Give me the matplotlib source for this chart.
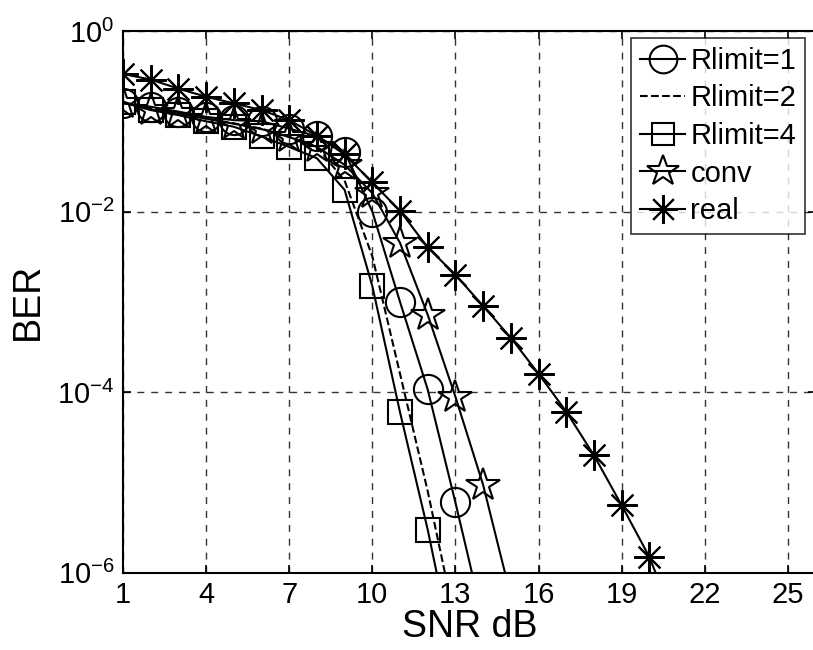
import numpy as np
import matplotlib
matplotlib.use("Agg")
import matplotlib.pyplot as plt

plt.rcParams['font.family'] = ['Liberation Sans', 'DejaVu Sans']
plt.rcParams['mathtext.fontset'] = 'custom'
plt.rcParams['mathtext.rm'] = 'Liberation Sans'
plt.rcParams['mathtext.it'] = 'Liberation Sans'

snr_r1 = [1, 2, 3, 4, 5, 6, 7, 8, 9, 10, 11, 12, 13, 14]
ber_r1 = [0.158, 0.145, 0.128, 0.112, 0.103, 0.1, 0.083, 0.068, 0.046,
          1.0e-2, 1.0e-3, 1.07e-4, 6.0e-6, 3.0e-7]

snr_r2 = [1, 2, 3, 4, 5, 6, 7, 8, 9, 10, 11, 12, 13]
ber_r2 = [0.16, 0.14, 0.124, 0.107, 0.095, 0.083, 0.067, 0.052, 0.022,
          3.2e-3, 1.6e-4, 8.0e-6, 2.8e-7]

snr_r4 = [1, 2, 3, 4, 5, 6, 7, 8, 9, 10, 11, 12, 13]
ber_r4 = [0.165, 0.133, 0.117, 0.10, 0.087, 0.068, 0.052, 0.039, 0.0174,
          1.5e-3, 6.0e-5, 3.0e-6, 1.0e-7]

snr_conv = [1, 2, 3, 4, 5, 6, 7, 8, 9, 10, 11, 12, 13, 14, 15]
ber_conv = [0.16, 0.135, 0.122, 0.107, 0.094, 0.082, 0.067, 0.052, 0.033,
            0.016, 4.5e-3, 7.2e-4, 8.9e-5, 9.4e-6, 5.5e-7]

snr_real = [1, 2, 3, 4, 5, 6, 7, 8, 9, 10, 11, 12, 13, 14, 15, 16, 17, 18, 19, 20, 21]
ber_real = [0.334, 0.29, 0.23, 0.187, 0.158, 0.133, 0.103, 0.069, 0.043, 0.021,
            1.02e-2, 4.0e-3, 2.0e-3, 9.0e-4, 4.0e-4, 1.6e-4, 6.1e-5, 2.0e-5,
            5.6e-6, 1.5e-6, 2.5e-7]

labels = ['Rlimit=1', 'Rlimit=2', 'Rlimit=4', 'conv', 'real']
xticks = [1, 4, 7, 10, 13, 16, 19, 22, 25]
yticks = [1e-6, 1e-4, 1e-2, 1e0]

fig = plt.figure(figsize=(8.13, 6.5), dpi=100)
W, H = 813, 650
left, right, top, bottom = 123, 815.5, 31, 572.7
ax = fig.add_axes([left / W, 1 - bottom / H, (right - left) / W, (bottom - top) / H])

lw = 1.5
mew = 1.5
common = dict(color='black', lw=lw, mfc='none', mec='black', mew=mew)
ax.semilogy(snr_r1, ber_r1, marker='o', ms=21, label=labels[0], **common)
ax.semilogy(snr_r2, ber_r2, linestyle='--', label=labels[1], color='black', lw=lw)
ax.semilogy(snr_r4, ber_r4, marker='s', ms=17, label=labels[2], **common)
ax.semilogy(snr_conv, ber_conv, marker='*', ms=25, label=labels[3], **common)
ax.semilogy(snr_real, ber_real, marker=(8, 2, 0), ms=22, label=labels[4], **common)

ax.set_xlim(1, 26)
ax.set_ylim(1e-6, 1)
ax.set_xticks(xticks)
ax.set_xticklabels([str(t) for t in xticks])
ax.set_yticks(yticks)
ax.yaxis.set_minor_locator(matplotlib.ticker.NullLocator())
ax.tick_params(axis='both', which='major', direction='in', length=6, width=1.2,
               labelsize=21, top=True, right=True, pad=6)
ax.grid(True, which='major', color='#333333', linestyle=(0, (5, 5)), lw=1.0)
for s in ax.spines.values():
    s.set_linewidth(1.5)

ax.set_xlabel('SNR dB', fontsize=27, labelpad=0)
ax.set_ylabel('BER', fontsize=27, labelpad=8)

leg = ax.legend(loc='upper right',
                bbox_to_anchor=((805 - left) / (right - left), 1 - (38 - top) / (bottom - top)),
                fontsize=21, frameon=True, fancybox=False, edgecolor='black',
                handlelength=1.55, handletextpad=0.18, borderpad=0.3, labelspacing=0.33,
                borderaxespad=0.0, markerscale=0.95)
leg.get_frame().set_linewidth(1.2)

fig.savefig('out.png', dpi=100)
